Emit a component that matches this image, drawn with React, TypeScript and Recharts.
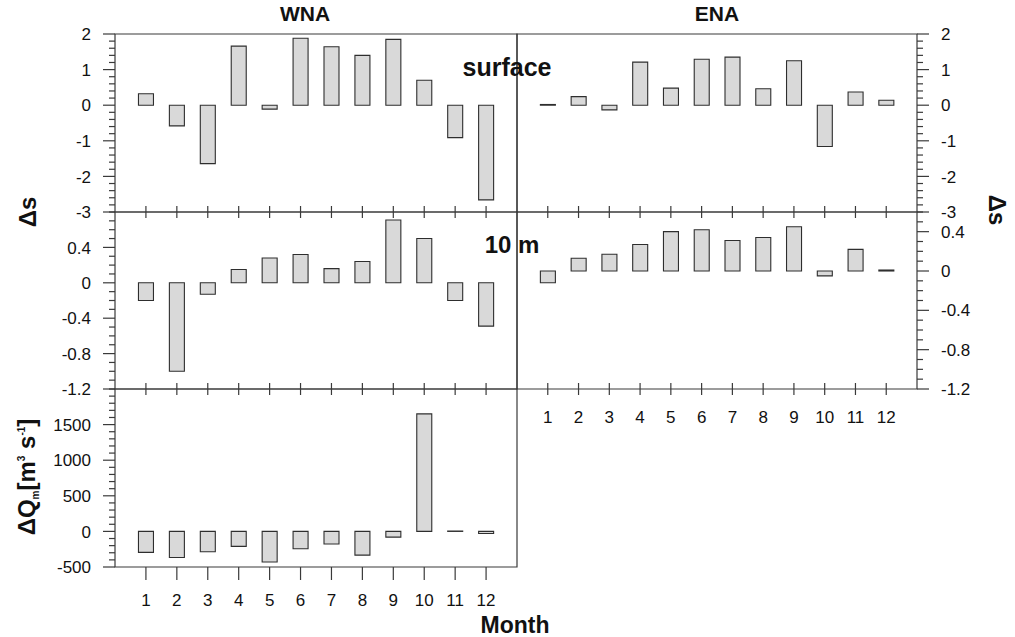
import React from 'react';
import { BarChart, Bar, XAxis, YAxis, ReferenceArea } from 'recharts';

// months on the x axis
const months = [1, 2, 3, 4, 5, 6, 7, 8, 9, 10, 11, 12];

// salinity anomalies
const wnaSurface = [0.32, -0.58, -1.64, 1.66, -0.11, 1.88, 1.64, 1.4, 1.85, 0.7, -0.91, -2.66];
const enaSurface = [0.02, 0.24, -0.13, 1.21, 0.48, 1.29, 1.35, 0.46, 1.25, -1.16, 0.37, 0.14];
const wna10m = [-0.2, -1.0, -0.13, 0.15, 0.28, 0.32, 0.16, 0.24, 0.71, 0.5, -0.2, -0.49];
const ena10m = [-0.12, 0.13, 0.17, 0.27, 0.4, 0.42, 0.31, 0.34, 0.45, -0.05, 0.22, 0.01];

// discharge anomaly, m3/s
const wnaQm = [-295, -367, -286, -210, -429, -243, -176, -333, -80, 1650, 5, -30];

// labelled y ticks
const surfaceTicks = [-3, -2, -1, 0, 1, 2];
const tenMTicks = [-1.2, -0.8, -0.4, 0, 0.4];
const qmTicks = [-500, 0, 500, 1000, 1500];

const FONT = '"Liberation Sans", Arial, Helvetica, sans-serif';
const AXIS = '#3a3a3a';
const INK = '#111';

const rows = (values: number[]) => months.map((m, i) => ({ month: m, value: values[i] }));

const withMinor = (domain: [number, number], step: number) => {
  const out: number[] = [];
  const n = Math.round((domain[1] - domain[0]) / step);
  for (let i = 0; i <= n; i++) out.push(Math.round((domain[0] + i * step) * 1000) / 1000);
  return out;
};

const makeYTick = (side: 'left' | 'right', majors: number[]) => (props: any) => {
  const { x, y, payload } = props;
  const v = payload.value;
  const major = majors.some(t => Math.abs(t - v) < 1e-6);
  const dir = side === 'left' ? -1 : 1;
  const len = major ? 12 : 6;
  return (
    <g>
      <line x1={x} x2={x + dir * len} y1={y} y2={y} stroke={AXIS} strokeWidth={1.2} />
      {major && (
        <text
          x={x + dir * 24}
          y={y}
          dy="0.36em"
          textAnchor={side === 'left' ? 'end' : 'start'}
          fontFamily={FONT}
          fontSize={17}
          fill={INK}
        >
          {String(v)}
        </text>
      )}
    </g>
  );
};

const makeXTick = (mode: 'cross' | 'down', labelOffset: number | null) => (props: any) => {
  const { x, y, payload } = props;
  return (
    <g>
      <line
        x1={x}
        x2={x}
        y1={mode === 'cross' ? y - 6 : y}
        y2={mode === 'cross' ? y + 6 : y + 13}
        stroke={AXIS}
        strokeWidth={1.2}
      />
      {labelOffset !== null && (
        <text x={x} y={y + labelOffset} dy="0.36em" textAnchor="middle" fontFamily={FONT} fontSize={17} fill={INK}>
          {payload.value}
        </text>
      )}
    </g>
  );
};

interface PanelProps {
  left: number;
  top: number;
  width: number;
  height: number;
  values: number[];
  domain: [number, number];
  majors: number[];
  minorStep: number;
  side: 'left' | 'right';
  xMode: 'cross' | 'down';
  xLabelOffset: number | null;
  xAxisHeight: number;
}

const Panel: React.FC<PanelProps> = p => {
  const chartW = p.width + 220;
  const chartH = p.height + p.xAxisHeight + 20;
  return (
    <div style={{ position: 'absolute', left: p.left - 110, top: p.top - 10 }}>
      <BarChart
        width={chartW}
        height={chartH}
        data={rows(p.values)}
        barSize={15}
        margin={{ top: 10, bottom: 10, left: p.side === 'left' ? 0 : 110, right: p.side === 'right' ? 0 : 110 }}
      >
        <XAxis
          dataKey="month"
          type="number"
          domain={[0, 13]}
          ticks={months}
          interval={0}
          allowDataOverflow
          tickSize={0}
          tickMargin={0}
          tickLine={false}
          axisLine={false}
          height={p.xAxisHeight}
          tick={makeXTick(p.xMode, p.xLabelOffset)}
        />
        <YAxis
          type="number"
          orientation={p.side}
          width={110}
          domain={p.domain}
          ticks={withMinor(p.domain, p.minorStep)}
          interval={0}
          allowDataOverflow
          tickSize={0}
          tickMargin={0}
          tickLine={false}
          axisLine={false}
          tick={makeYTick(p.side, p.majors)}
        />
        <ReferenceArea
          x1={0}
          x2={13}
          y1={p.domain[0]}
          y2={p.domain[1]}
          fill="none"
          stroke={AXIS}
          strokeWidth={1.2}
          ifOverflow="visible"
        />
        <Bar dataKey="value" fill="#d9d9d9" stroke="#2e2e2e" strokeWidth={1.1} isAnimationActive={false} />
      </BarChart>
    </div>
  );
};

const label = (x: number, y: number, size: number, rotate = 0): React.CSSProperties => ({
  position: 'absolute',
  left: x,
  top: y,
  transform: `translate(-50%, -50%) rotate(${rotate}deg)`,
  fontFamily: FONT,
  fontWeight: 'bold',
  fontSize: size,
  color: INK,
  whiteSpace: 'nowrap',
  lineHeight: 1,
});

export default function App() {
  return (
    <div style={{ position: 'absolute', left: 0, top: 0, width: 1015, height: 637, background: '#fff' }}>
      <Panel left={115} top={34} width={402} height={178} values={wnaSurface} domain={[-3, 2]} majors={surfaceTicks}
        minorStep={0.2} side="left" xMode="cross" xLabelOffset={null} xAxisHeight={10} />
      <Panel left={517} top={34} width={400} height={178} values={enaSurface} domain={[-3, 2]} majors={surfaceTicks}
        minorStep={0.2} side="right" xMode="cross" xLabelOffset={null} xAxisHeight={10} />
      <Panel left={115} top={212} width={402} height={177} values={wna10m} domain={[-1.2, 0.8]} majors={tenMTicks}
        minorStep={0.1} side="left" xMode="cross" xLabelOffset={null} xAxisHeight={10} />
      <Panel left={517} top={212} width={400} height={177} values={ena10m} domain={[-1.2, 0.6]} majors={tenMTicks}
        minorStep={0.1} side="right" xMode="cross" xLabelOffset={28} xAxisHeight={45} />
      <Panel left={115} top={389} width={402} height={178} values={wnaQm} domain={[-500, 2000]} majors={qmTicks}
        minorStep={100} side="left" xMode="down" xLabelOffset={33} xAxisHeight={48} />

      <div style={label(305, 13, 21)}>WNA</div>
      <div style={label(717, 13, 21)}>ENA</div>
      <div style={label(507, 67, 25)}>surface</div>
      <div style={label(512, 245, 24)}>10 m</div>
      <div style={label(28, 212, 24, -90)}>Δs</div>
      <div style={label(997, 210, 24, 90)}>Δs</div>
      <div style={label(28, 477, 24, -90)}>
        ΔQ<span style={{ fontSize: 10, verticalAlign: -4 }}>m</span>[m<span style={{ fontSize: 10, verticalAlign: 10 }}>3</span> s<span style={{ fontSize: 10, verticalAlign: 10 }}>-1</span>]
      </div>
      <div style={label(515, 625, 23)}>Month</div>
    </div>
  );
}
